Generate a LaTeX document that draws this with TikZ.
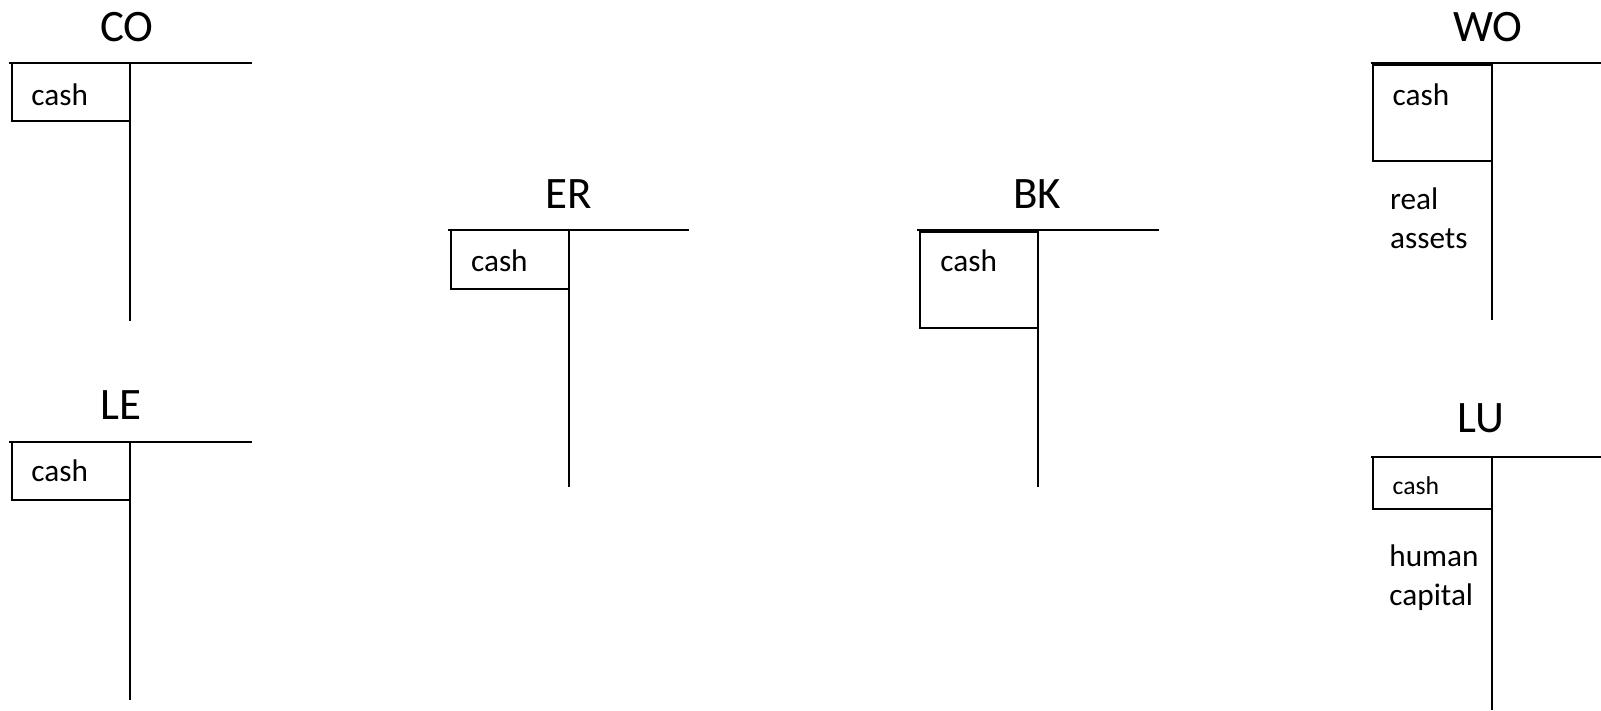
\documentclass[tikz,border=0pt]{standalone}
\usepackage{fontspec}
\setmainfont{Carlito}

\tikzset{
  acct/.style={font=\fontsize{25.6}{30}\selectfont, anchor=base, inner sep=0pt},
  entry/.style={font=\fontsize{17.8}{22.1}\selectfont, anchor=base west, inner sep=0pt, align=left},
  tline/.style={line width=1pt},
}

\begin{document}
\begin{tikzpicture}[x=0.02cm, y=-0.02cm]
        \useasboundingbox (0,0) rectangle (1601,710);

        % titles
        \node (co) [acct] at (127,41.7) {CO};
        \node (le) [acct] at (121,419.3) {LE};
        \node (er) [acct] at (568.7,208.3) {ER};
        \node (bk) [acct] at (1037.3,208) {BK};
        \node (wo) [acct] at (1487.7,41.7) {WO};
        \node (lu) [acct] at (1480.5,432.7) {LU};

        % T lines
        \draw[tline] (9.3,63.3) -- (251.7,63.3) (130,63.3) -- (130,320.6);
        \draw[tline] (9.3,441.7) -- (251.7,441.7) (130,441.7) -- (130,700);
        \draw[tline] (447.7,230) -- (689.3,230) (569,230) -- (569,486.7);
        \draw[tline] (916.7,230) -- (1159,230) (1037.7,230) -- (1037.7,486.7);
        \draw[tline] (1370.7,63.3) -- (1601,63.3) (1491.7,63.3) -- (1491.7,320);
        \draw[tline] (1370.7,456.7) -- (1601,456.7) (1491.7,456.7) -- (1491.7,710);

        % cash boxes
        \draw[tline] (12.3,63.3) rectangle (130,121);
        \draw[tline] (12.3,441.7) rectangle (130,500);
        \draw[tline] (450.7,230) rectangle (569,288.7);
        \draw[tline] (920,231.7) rectangle (1037.7,328.3);
        \draw[tline] (1373.3,65) rectangle (1491.7,161);
        \draw[tline] (1373.3,456.7) rectangle (1491.7,508.7);

        % entries
        \node (co-cash) [entry] at (31,105) {cash};
        \node (le-cash) [entry] at (31,481.7) {cash};
        \node (er-cash) [entry] at (470.7,271.7) {cash};
        \node (bk-cash) [entry] at (940,271.7) {cash};
        \node (wo-cash) [entry] at (1392.3,105) {cash};
        \node (lu-cash) [entry, font=\fontsize{14.6}{18}\selectfont] at (1392.3,494) {cash};
        \node (wo-real) [entry] at (1389.7,248.3) {real\\assets};
        \node (lu-human) [entry] at (1389,605) {human\\capital};
    \end{tikzpicture}
\end{document}
